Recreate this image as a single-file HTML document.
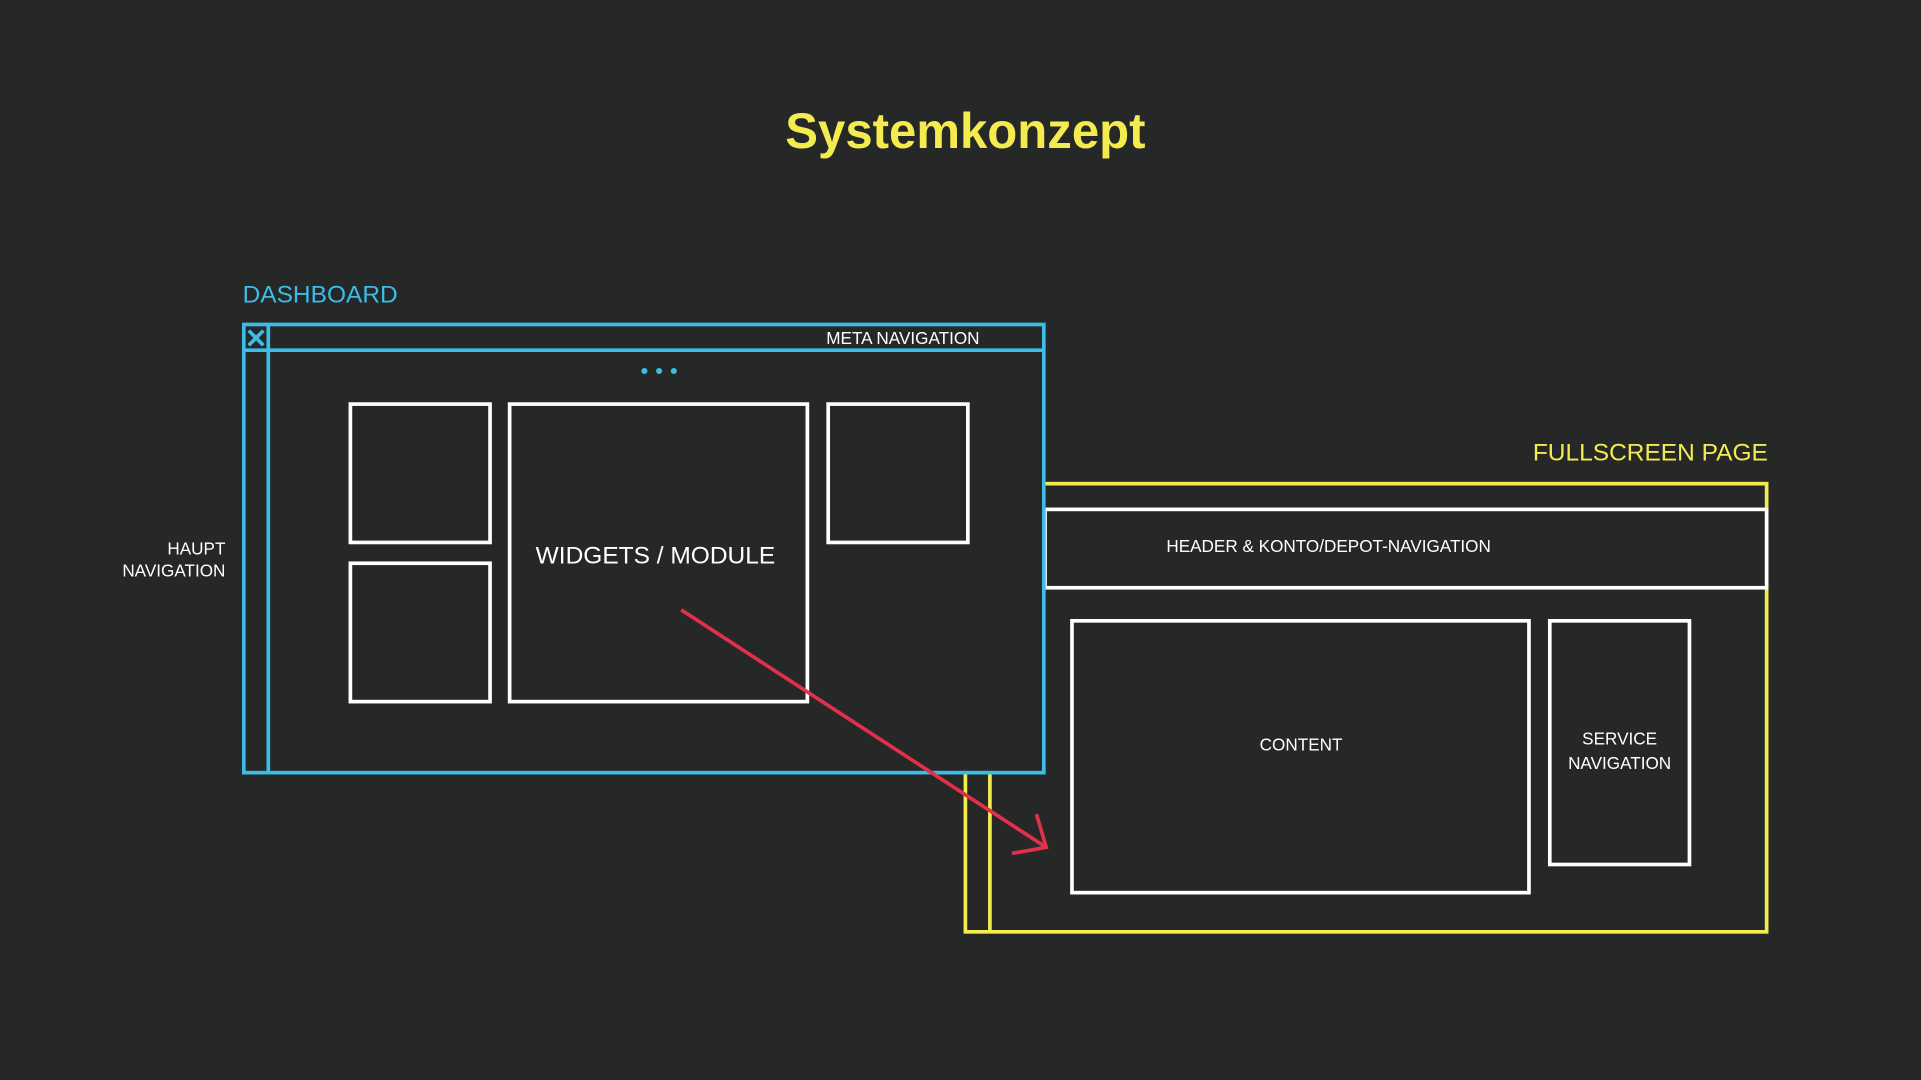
<!DOCTYPE html>
<html><head><meta charset="utf-8"><style>
html,body{margin:0;padding:0;background:#262727;}
svg{display:block;}
text{font-family:"Liberation Sans",sans-serif;}
</style></head><body>
<svg width="1921" height="1080" viewBox="0 0 1568 882" preserveAspectRatio="none">
<rect width="1568" height="882" fill="#262727"/>
<text x="788" y="121" text-anchor="middle" fill="#f4ec4f" font-size="41" font-weight="bold" textLength="294" lengthAdjust="spacingAndGlyphs">Systemkonzept</text>
<!-- yellow fullscreen -->
<text x="1443" y="376" text-anchor="end" fill="#f4ec4f" font-size="20">FULLSCREEN PAGE</text>
<g fill="none" stroke="#f4ec4f" stroke-width="3">
<rect x="788" y="395" width="654" height="366"/>
<line x1="808" y1="395" x2="808" y2="761"/>
</g>
<rect x="853" y="416" width="589" height="64" fill="#262727" stroke="#fff" stroke-width="3"/>
<text x="952" y="451" fill="#fff" font-size="14">HEADER &amp; KONTO/DEPOT-NAVIGATION</text>
<g fill="none" stroke="#fff" stroke-width="3">
<rect x="875" y="507" width="373" height="222"/>
<rect x="1265" y="507" width="114" height="199"/>
</g>
<text x="1062" y="613" text-anchor="middle" fill="#fff" font-size="14">CONTENT</text>
<text x="1322" y="608" text-anchor="middle" fill="#fff" font-size="14">SERVICE</text>
<text x="1322" y="628" text-anchor="middle" fill="#fff" font-size="14">NAVIGATION</text>
<!-- dashboard -->
<text x="198" y="247" fill="#3bbde8" font-size="20">DASHBOARD</text>
<rect x="199" y="265" width="653" height="366" fill="#262727" stroke="#3bbde8" stroke-width="3"/>
<g stroke="#3bbde8" stroke-width="3">
<line x1="199" y1="286" x2="852" y2="286"/>
<line x1="219" y1="265" x2="219" y2="631"/>
<line x1="203" y1="270" x2="215" y2="282"/>
<line x1="215" y1="270" x2="203" y2="282"/>
</g>
<text x="737" y="281" text-anchor="middle" fill="#fff" font-size="14">META NAVIGATION</text>
<g fill="#3bbde8"><circle cx="526" cy="303" r="2.5"/><circle cx="538" cy="303" r="2.5"/><circle cx="550" cy="303" r="2.5"/></g>
<text x="184" y="453" text-anchor="end" fill="#fff" font-size="14">HAUPT</text>
<text x="184" y="471" text-anchor="end" fill="#fff" font-size="14">NAVIGATION</text>
<g fill="none" stroke="#fff" stroke-width="3">
<rect x="286" y="330" width="114" height="113"/>
<rect x="286" y="460" width="114" height="113"/>
<rect x="416" y="330" width="243" height="243"/>
<rect x="676" y="330" width="114" height="113"/>
</g>
<text x="535" y="460" text-anchor="middle" fill="#fff" font-size="20">WIDGETS / MODULE</text>
<!-- arrow -->
<g stroke="#e0304a" stroke-width="3" fill="none">
<line x1="556" y1="498" x2="854" y2="692"/>
<polyline points="846,665 854,692 826,697"/>
</g>
</svg>
</body></html>
